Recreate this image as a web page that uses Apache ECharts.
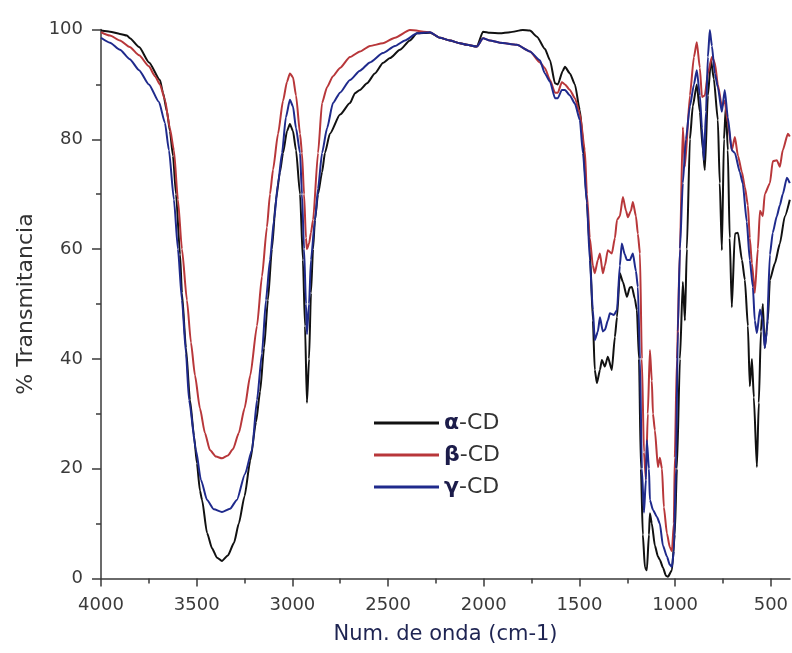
<!DOCTYPE html>
<html>
<head>
<meta charset="utf-8">
<script src="https://cdn.jsdelivr.net/npm/echarts@6/dist/echarts.min.js"></script>
<style>
html,body{margin:0;padding:0;background:#fff;}
#chart{width:792px;height:653px;}
</style>
</head>
<body>
<div id="chart"></div>
<script>
// ---- data (wavenumber cm-1, % transmittance) ----
const seriesNames = ['α-CD', 'β-CD', 'γ-CD'];

const alphaWn = [4000,3953,3901,3864,3849,3801,3749,3692,3676,3655,3640,3624,3608,3587,3577,3556,3535,3514,3499,3483,3472,3446,3420,3394,3368,3337,3305,3280,3250,3220,3190,3169,3148,3128,3107,3086,3065,3049,3028,3013,2997,2981,2960,2945,2934,2924,2913,2903,2892,2882,2866,2845,2830,2804,2751,2699,2673,2647,2610,2569,2527,2490,2438,2386,2349,2281,2229,2177,2125,2088,2036,2004,1968,1916,1863,1796,1759,1722,1681,1654,1628,1613,1587,1576,1550,1524,1498,1482,1461,1446,1430,1420,1409,1393,1383,1367,1352,1331,1315,1304,1289,1273,1252,1237,1226,1211,1200,1189,1179,1169,1158,1148,1137,1132,1122,1106,1090,1080,1064,1048,1038,1017,1002,991,975,960,949,939,923,908,887,871,855,845,829,813,798,777,767,756,745,735,725,715,704,688,672,651,636,620,610,599,589,573,563,552,542,532,516,505,479,453,427,401];
const alphaT = [99.8,99.6,99.2,98.9,98.4,96.8,94,90.8,88.5,85,81.5,77,70,59,52,42,32.5,26,21,16,14.3,8.3,5.5,3.8,3.2,4.2,6.5,10,15,21.5,28.5,34,42,50.7,60,69,74,77.5,81.5,82.8,81.5,78,70,58,46,32,40,52,60,65.3,70,74,77.5,81,84.5,86.6,88.4,89,90.2,92,93.9,94.8,96.3,98,99.3,99.4,98.5,98,97.5,97.2,96.9,99.6,99.4,99.3,99.5,99.9,99.8,98.7,96.5,94.4,90.2,90,92.5,93.2,92,90,85.3,80,68.4,60,47,38,35.6,38,39.8,38.6,40.4,38,44,47.6,55.6,54,51.3,53,53.1,51,48.9,40,20,8,2,1.5,8,11.9,10,6,4,3.4,2,0.5,0.3,1.5,8,20,40,54,47,60,80,86,90,85,78,74.4,88,94.4,91,83.5,72,59.8,80,86,78,62,49.4,62.8,63,58,54.4,46,35,40,33,20.3,32,45,50,42,47,54.4,57.4,61,66,69];

const betaWn = [4000,3953,3901,3850,3801,3750,3718,3692,3666,3640,3619,3598,3577,3551,3530,3509,3483,3457,3431,3399,3368,3337,3310,3280,3250,3220,3185,3159,3133,3117,3101,3075,3049,3028,3013,2997,2981,2960,2950,2939,2929,2924,2913,2903,2892,2866,2845,2819,2788,2751,2699,2647,2595,2527,2464,2386,2281,2229,2177,2125,2088,2036,2004,1968,1916,1827,1759,1707,1681,1654,1628,1613,1592,1576,1550,1524,1498,1472,1461,1446,1430,1420,1404,1393,1378,1367,1352,1331,1315,1304,1289,1273,1257,1247,1231,1221,1205,1195,1184,1174,1163,1153,1143,1132,1122,1116,1106,1090,1080,1069,1059,1043,1028,1017,1007,1002,991,975,960,949,923,902,887,871,860,845,829,808,793,777,756,741,725,704,688,672,651,636,620,610,599,584,568,557,542,532,505,490,469,453,438,411,401];
const betaT = [99.5,98.9,98,96.8,95.3,93.3,91.5,90,87.2,82,78,69,60,50.7,43,37,31,26.5,23.4,22.2,21.9,22.4,23.6,26.5,31,37,46,55,64,70,74.5,81,87,90.5,92,91.3,88,81,77.5,70,62,60,61,63,65.3,77.5,86.6,89.5,91.5,93,95,96,97,97.5,98.5,99.9,99.5,98.5,98,97.5,97.2,96.9,98.4,98,97.6,97.2,96,94,93,90.8,88.5,88.5,90.4,90,89,87.5,84.7,78,70,62,57,55.6,58,59.2,55.6,57,59.8,59.2,62,65.3,66,69.5,67,65.8,67,68.6,66,62.8,59.2,40,23,18,30,41.6,36,30,27,20.3,22,20,13,8.2,5.7,5,10,22,40,60,82.2,75,88,95,97.7,93,87.7,88,92,95,94,90,86,87,83,78,80.4,77,74,71.3,68,62,57.4,52,60,67,66,70,72,76,76.2,75,78,81,80.5];

const gammaWn = [4000,3953,3901,3850,3801,3750,3697,3666,3645,3619,3598,3577,3556,3540,3504,3478,3446,3410,3368,3326,3290,3248,3211,3185,3159,3138,3117,3096,3075,3054,3034,3013,2997,2981,2960,2950,2939,2929,2924,2913,2903,2882,2866,2845,2819,2788,2751,2699,2647,2595,2527,2464,2412,2349,2281,2229,2177,2125,2088,2036,2004,1968,1916,1827,1759,1707,1681,1654,1628,1613,1592,1576,1550,1524,1498,1482,1461,1446,1430,1420,1404,1393,1378,1367,1352,1341,1320,1304,1289,1279,1263,1252,1237,1221,1205,1195,1184,1174,1163,1153,1148,1137,1132,1116,1095,1080,1064,1043,1028,1017,1007,996,986,975,960,944,923,902,887,871,860,850,839,829,819,808,793,777,756,741,725,704,688,662,647,626,610,594,584,573,557,542,532,521,505,490,469,453,438,416,401];
const gammaT = [98.5,97.6,96.3,94.6,92.6,90,86.8,83,78,69,60,50.7,41,32.5,23.4,18,14.3,12.6,12.1,12.7,14.3,19,23.4,32.5,41,50.7,58,65.3,72,77.5,84,87.2,86,82,77.5,70,60,50,44.5,50,58,65.3,71,77.5,82,86.6,88.5,90.8,92.5,94,95.7,97,98,99.3,99.5,98.5,98,97.5,97.2,96.9,98.4,98,97.6,97.2,96,94.4,92,90.5,87.5,87.5,89,89,88,86.5,83.5,77.5,68.4,58,48.9,43.4,45,47.6,45,45.3,47,48.3,48,48.9,57,61,59,58,58,59.2,56,53.1,40,20,12,18,25.2,20,14.3,12.5,11.2,10,6,4,2.5,2.1,5,20,45,60,72,80,86,90,92.6,88,82,76.2,85,95,99.9,97,92,89.5,85,89,84,78,77.5,74,72,65,58,53.1,47,44.7,49,47,42,45,59,63,66,68,70,73,72];

const xMajorTicks = [4000,3500,3000,2500,2000,1500,1000,500];
const xMinorTicks = [3750,3250,2750,2250,1750,1250,750];

const colors = ['#111111', '#b8373a', '#1f2a8c'];

function pairs(xs, ys){ return xs.map((x,i)=>[x, ys[i]]); }

const chart = echarts.init(document.getElementById('chart'), null, {renderer:'canvas'});
const axisColor = '#3a3a3a';
const font = 'DejaVu Sans';

const mkSeries = (name, xs, ys, color) => ({
  name, type:'line', data: pairs(xs, ys), xAxisIndex:0, yAxisIndex:0,
  showSymbol:false, symbol:'none', smooth:0.2, smoothMonotone:'x',
  lineStyle:{color, width:2}, itemStyle:{color}, animation:false, z:2
});

chart.setOption({
  backgroundColor:'#ffffff',
  animation:false,
  grid:{left:101, right:2, top:29.5, bottom:74.5, containLabel:false, outerBoundsMode:'none'},
  legend:{
    data: seriesNames,
    orient:'vertical', left:374, top:411, padding:0,
    itemWidth:65, itemHeight:3, icon:'rect', itemGap:8,
    textStyle:{fontFamily:font, fontSize:22, color:'#333', lineHeight:24,
      rich:{
        g:{fontFamily:font, fontSize:22, fontWeight:'bold', color:'#1c1c4a', lineHeight:24},
        t:{fontFamily:font, fontSize:22, color:'#333', lineHeight:24}
      }},
    formatter: n => '{g|' + n.charAt(0) + '}{t|' + n.slice(1) + '}'
  },
  xAxis:[{
    type:'value', min:400, max:4000, inverse:true, position:'bottom',
    name:'Num. de onda (cm-1)', nameLocation:'middle', nameGap:46,
    nameTextStyle:{fontFamily:font, fontSize:21, color:'#1e2452'},
    axisLine:{show:true, onZero:false, lineStyle:{color:axisColor, width:1.5}},
    axisTick:{show:true, customValues:xMajorTicks, length:8, lineStyle:{color:axisColor, width:1.5}},
    axisLabel:{show:true, customValues:xMajorTicks, margin:18, fontFamily:font, fontSize:18, color:'#3a3a3a',
      formatter: v => String(v)},
    splitLine:{show:false}
  },{
    type:'value', min:400, max:4000, inverse:true, position:'bottom', gridIndex:0,
    axisLine:{show:false},
    axisTick:{show:true, customValues:xMinorTicks, length:5, lineStyle:{color:axisColor, width:1.5}},
    axisLabel:{show:false},
    splitLine:{show:false}
  }],
  yAxis:{
    type:'value', min:0, max:100, interval:20,
    name:'% Transmitancia', nameLocation:'middle', nameGap:64,
    nameTextStyle:{fontFamily:font, fontSize:22, color:'#333'},
    axisLine:{show:true, onZero:false, lineStyle:{color:axisColor, width:1.5}},
    axisTick:{show:true, length:9, lineStyle:{color:axisColor, width:1.5}},
    minorTick:{show:true, splitNumber:2, length:5, lineStyle:{color:axisColor, width:1.5}},
    axisLabel:{margin:18, fontFamily:font, fontSize:18, color:'#3a3a3a', formatter: v => String(v)},
    splitLine:{show:false}, minorSplitLine:{show:false}
  },
  series:[
    mkSeries(seriesNames[0], alphaWn, alphaT, colors[0]),
    mkSeries(seriesNames[1], betaWn, betaT, colors[1]),
    mkSeries(seriesNames[2], gammaWn, gammaT, colors[2])
  ]
});
</script>
</body>
</html>
